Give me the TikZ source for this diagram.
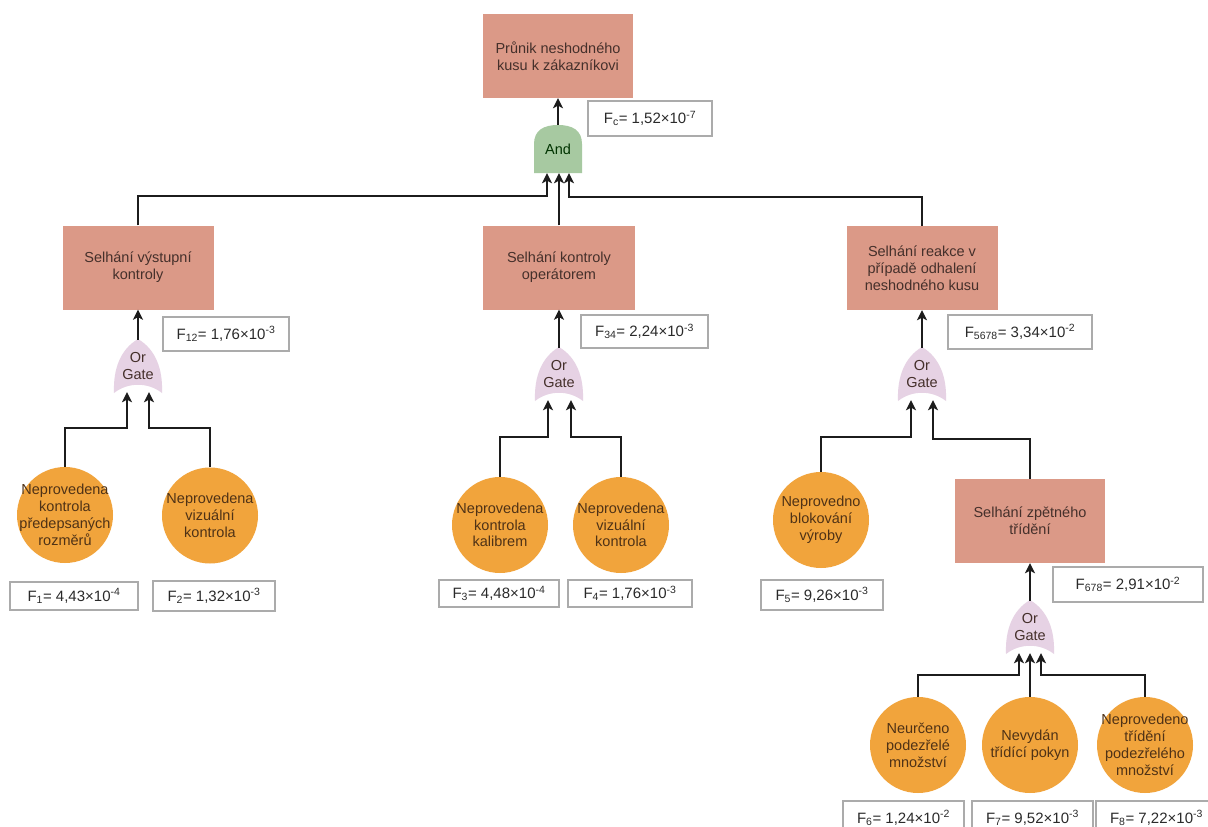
\documentclass[tikz,border=0pt]{standalone}
\usepackage{fontspec}
\setmainfont{Liberation Sans}
\usetikzlibrary{arrows.meta,calc}
\definecolor{boxc}{HTML}{DB9987}
\definecolor{circc}{HTML}{F1A43C}
\definecolor{andc}{HTML}{A7C9A1}
\definecolor{orc}{HTML}{E6D2E4}
\definecolor{txtc}{HTML}{45302B}
\definecolor{circtxt}{HTML}{4F3216}
\definecolor{linec}{HTML}{1C1C1C}
\definecolor{probline}{HTML}{ABABAB}
\definecolor{probtxt}{HTML}{2A2A2A}
\newcommand\mkorshape[2]{%
  \fill[orc] ({#1-24},{#2+27}) .. controls ({#1-25},{#2+2}) and ({#1-17},{#2-17}) .. ({#1},{#2-27})
    .. controls ({#1+17},{#2-17}) and ({#1+25},{#2+2}) .. ({#1+24},{#2+27})
    .. controls ({#1+10},{#2+16}) and ({#1-10},{#2+16}) .. cycle;}
\newcommand\mkandshape[2]{%
  \fill[andc] ({#1-24},{#2+24}) -- ({#1-24},{#2-5}) .. controls ({#1-24},{#2-19}) and ({#1-14},{#2-24}) .. ({#1},{#2-24})
    .. controls ({#1+14},{#2-24}) and ({#1+24},{#2-19}) .. ({#1+24},{#2-5}) -- ({#1+24},{#2+24}) -- cycle;}
\begin{document}
\begin{tikzpicture}[x=1pt,y=-1pt,
  evt/.style={rectangle, fill=boxc, minimum width=151pt, minimum height=84pt, inner sep=0pt, align=center, text=txtc, font=\fontsize{14.5}{16.8}\selectfont},
  basic/.style={circle, fill=circc, minimum size=96pt, inner sep=0pt},
  basictxt/.style={inner sep=0pt, align=center, text=circtxt, font=\fontsize{14.5}{16.8}\selectfont},
  prob/.style={rectangle, draw=probline, line width=1.2pt, fill=white, minimum height=33pt, inner sep=0pt, text=probtxt, font=\fontsize{15}{18}\selectfont},
  gatetxt/.style={minimum width=48pt, minimum height=52pt, inner sep=0pt, align=center, text=txtc, font=\fontsize{14.5}{16.8}\selectfont},
  andtxt/.style={minimum width=48pt, minimum height=48pt, inner sep=0pt, align=center, text=black!80!green, font=\fontsize{14.5}{16.8}\selectfont},
  arr/.style={draw=linec, line width=1.9pt, -{Stealth[length=10pt,width=10pt,inset=2.5pt]}}]
\useasboundingbox (0,0) rectangle (1208,827);
\clip (0,0) rectangle (1208,827);
\fill[white] (0,0) rectangle (1208,827);

% top event and AND gate
\node[evt, minimum width=150pt] (top) at (558,56) {Průnik neshodného\\kusu k zákazníkovi};
\node[prob, minimum width=124pt, minimum height=35pt] (pc) at (650,118.5) {F\textsubscript{c}= 1,52×10\textsuperscript{-7}};
\mkandshape{558}{149}
\node[andtxt] (and) at (558,149) {And};

% intermediate events
\node[evt] (b1) at (138,267.5) {Selhání výstupní\\kontroly};
\node[evt, minimum width=152pt] (b2) at (559,267.5) {Selhání kontroly\\operátorem};
\node[evt] (b3) at (922,268) {Selhání reakce v\\případě odhalení\\neshodného kusu};
\node[evt, minimum width=150pt] (b4) at (1030,521) {Selhání zpětného\\třídění};

\node[prob, minimum width=126pt, minimum height=34pt] (p12) at (226,334) {F\textsubscript{12}= 1,76×10\textsuperscript{-3}};
\node[prob, minimum width=127pt] (p34) at (644.5,331.5) {F\textsubscript{34}= 2,24×10\textsuperscript{-3}};
\node[prob, minimum width=144pt, minimum height=34pt] (p5678) at (1020,332) {F\textsubscript{5678}= 3,34×10\textsuperscript{-2}};
\node[prob, minimum width=150pt, minimum height=35pt] (p678) at (1128,584.5) {F\textsubscript{678}= 2,91×10\textsuperscript{-2}};

% OR gates
\mkorshape{138}{366}
\node[gatetxt] (g1) at (138,366) {Or\\Gate};
\mkorshape{559}{374}
\node[gatetxt] (g2) at (559,374) {Or\\Gate};
\mkorshape{922}{374}
\node[gatetxt] (g3) at (922,374) {Or\\Gate};
\mkorshape{1030}{627}
\node[gatetxt] (g4) at (1030,627) {Or\\Gate};

% basic events
\node[basic] (c1) at (65,515) {};
\node[basictxt] (c1t) at (c1) {Neprovedena\\kontrola\\předepsaných\\rozměrů};
\node[basic] (c2) at (210,515.5) {};
\node[basictxt] (c2t) at (c2) {Neprovedena\\vizuální\\kontrola};
\node[basic] (c3) at (500,525) {};
\node[basictxt] (c3t) at (c3) {Neprovedena\\kontrola\\kalibrem};
\node[basic] (c4) at (621,525) {};
\node[basictxt] (c4t) at (c4) {Neprovedena\\vizuální\\kontrola};
\node[basic] (c5) at (821,520) {};
\node[basictxt] (c5t) at (c5) {Neprovedno\\blokování\\výroby};
\node[basic] (c6) at (918,745) {};
\node[basictxt] (c6t) at (c6) {Neurčeno\\podezřelé\\množství};
\node[basic] (c7) at (1030,745) {};
\node[basictxt] (c7t) at (c7) {Nevydán\\třídící pokyn};
\node[basic] (c8) at (1145,745) {};
\node[basictxt] (c8t) at (c8) {Neprovedeno\\třídění\\podezřelého\\množství};

% probabilities of basic events
\node[prob, minimum width=128pt, minimum height=28pt] (p1) at (74,596) {F\textsubscript{1}= 4,43×10\textsuperscript{-4}};
\node[prob, minimum width=122pt, minimum height=30pt] (p2) at (214,596) {F\textsubscript{2}= 1,32×10\textsuperscript{-3}};
\node[prob, minimum width=120pt, minimum height=27pt] (p3) at (499,593.5) {F\textsubscript{3}= 4,48×10\textsuperscript{-4}};
\node[prob, minimum width=124pt, minimum height=27pt] (p4) at (630,593.5) {F\textsubscript{4}= 1,76×10\textsuperscript{-3}};
\node[prob, minimum width=122pt, minimum height=30pt] (p5) at (822,595) {F\textsubscript{5}= 9,26×10\textsuperscript{-3}};
\node[prob, minimum width=121pt, minimum height=34pt] (p6) at (903.5,818) {F\textsubscript{6}= 1,24×10\textsuperscript{-2}};
\node[prob, minimum width=121pt, minimum height=34pt] (p7) at (1032.5,818) {F\textsubscript{7}= 9,52×10\textsuperscript{-3}};
\node[prob, minimum width=121pt, minimum height=34pt] (p8) at (1156.5,818) {F\textsubscript{8}= 7,22×10\textsuperscript{-3}};

% connectors
\draw[arr] (and.north) -- (top.south);
\draw[arr] (b1.north) -- ++(0,-29) -| ([xshift=-11pt]and.south);
\draw[arr] (b2.north) -- ([xshift=1pt]and.south);
\draw[arr] (b3.north) -- ++(0,-29) -| ([xshift=11pt]and.south);

\draw[arr] (g1.north) -- (b1.south);
\draw[arr] (g2.north) -- (b2.south);
\draw[arr] (g3.north) -- (b3.south);
\draw[arr] (g4.north) -- (b4.south);

\draw[arr] (c1.north) -- ++(0,-39) -| ([xshift=-11pt]g1.south);
\draw[arr] (c2.north) -- ++(0,-39.5) -| ([xshift=11pt]g1.south);
\draw[arr] (c3.north) -- ++(0,-40) -| ([xshift=-11pt]g2.south);
\draw[arr] (c4.north) -- ++(0,-40) -| ([xshift=12pt]g2.south);
\draw[arr] (c5.north) -- ++(0,-35) -| ([xshift=-11pt]g3.south);
\draw[arr] (b4.north) -- ++(0,-40) -| ([xshift=11pt]g3.south);
\draw[arr] (c6.north) -- ++(0,-22) -| ([xshift=-11pt]g4.south);
\draw[arr] (c7.north) -- (g4.south);
\draw[arr] (c8.north) -- ++(0,-22) -| ([xshift=11pt]g4.south);
\end{tikzpicture}
\end{document}
